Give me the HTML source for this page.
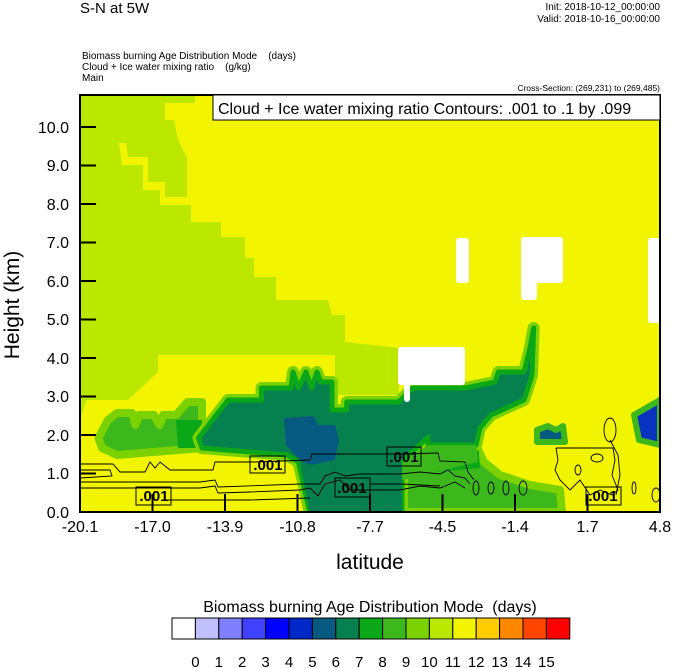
<!DOCTYPE html>
<html><head><meta charset="utf-8"><style>
html,body{margin:0;padding:0;background:#fff;}
svg{display:block;font-family:"Liberation Sans",sans-serif;}
</style></head><body>
<svg width="674" height="668" viewBox="0 0 674 668" xmlns="http://www.w3.org/2000/svg">
<defs><clipPath id="pc"><rect x="80" y="95" width="580" height="417"/></clipPath></defs>
<g clip-path="url(#pc)">
<rect x="80" y="95" width="580" height="417" fill="#f3f500"/>
<polygon fill="#bce800" points="80,95 195,95 195,103 165,103 165,120 174,120 178,140 187,158 187,197 160,197 160,205 191,205 191,222 221,222 221,237 245,237 245,258 254,258 254,277 276,277 276,300 328,300 332,315 345,315 345,342 399,348 399,395 335,395 335,355 158,355 158,372 128,400 87,400 80,418"/>
<polygon fill="#f3f500" points="119,143 126,143 128,157 148,157 148,182 165,182 165,200 160,200 160,190 143,190 143,165 122,165"/>
<polygon fill="#065a82" stroke="#3cb81c" stroke-width="6" stroke-linejoin="round" points="537,430 548,426 556,430 563,426 565,442 537,442"/>
<polygon fill="#0a32c0" stroke="#3cb81c" stroke-width="6" stroke-linejoin="round" points="634,415 660,400 660,445 639,440"/>
<g stroke-linejoin="round">
<polygon fill="#3cb81c" stroke="#7cd200" stroke-width="8" points="98.5,438 107.8,420 117,413 132,413 135.5,425 139,415 154,415 159.6,425 163,415 176,415 187.4,402 202,402 202,448 117,455 102,448"/>
<polygon fill="#0aa818" points="176,420 202,420 202,448 178,448"/>
<polygon fill="#3cb81c" stroke="#7cd200" stroke-width="8" points="402,450 428,437 476,445 484,462 500,475 530,485 560,490 562,512 402,512"/>
<polygon fill="#0aa818" points="402,440 478,440 480,468 402,475"/>
<polygon fill="#078050" stroke="#7cd200" stroke-width="12" points="198.5,438 228,400 261.5,400 261.5,388 291,388 293,372 298.5,388 306,372 311.5,388 317,372 320.7,382 332,382 332,410 346.7,410 346.7,402 398.5,402 413,388 465,388 495,382 498.5,372 524,372 530,348 533.7,328 532,375 528,388 524,400 491,415 480,428 476,445 428,445 428,437 402,462 402,512 309.6,512 298.5,462 287,455 202,448"/>
<polygon fill="#078050" stroke="#0aa818" stroke-width="5" points="198.5,438 228,400 261.5,400 261.5,388 291,388 293,372 298.5,388 306,372 311.5,388 317,372 320.7,382 332,382 332,410 346.7,410 346.7,402 398.5,402 413,388 465,388 495,382 498.5,372 524,372 530,348 533.7,328 532,375 528,388 524,400 491,415 480,428 476,445 428,445 428,437 402,462 402,512 309.6,512 298.5,462 287,455 202,448"/>
</g>
<polygon fill="#3cb81c" points="402,462 428,445 476,445 478,462 402,480"/>
<polygon fill="#078050" points="300,462 402,462 402,512 309.6,512"/>
<polygon fill="#065a82" points="284,418 314,416 318,425 335,425 339,440 335,460 310,465 300,460 286,445"/>
<g fill="#fff">
<rect x="456" y="238" width="13" height="45" rx="3"/>
<rect x="521" y="237" width="42" height="46" rx="3"/>
<rect x="521" y="280" width="16" height="20" rx="3"/>
<rect x="648" y="238" width="14" height="85" rx="3"/>
<rect x="398" y="347" width="67" height="38" rx="3"/>
<rect x="404" y="380" width="6" height="22" rx="3"/>
</g>
<g fill="none" stroke="#000" stroke-width="0.9">
<polyline points="80,464 113,464 120,472 145,472 150,462 155,468 160,462 170,470 213,470 215,462 255,462 310,460 312,454 400,454 438,453 440,461 465,462 468,472 474,480"/>
<polyline points="80,470 110,470 112,476 80,478"/>
<polyline points="80,482 200,482 215,480 218,487 300,484 320,484 325,476 335,472 345,476 360,474 400,474 420,472 440,474 448,470 455,476 465,478 470,484"/>
<polyline points="80,488 200,488 215,486 218,493 250,492 300,490 310,488 318,496 325,484 340,480 350,490 400,490 420,486 440,488 455,482 465,488"/>
<polyline points="165,500 250,500 310,498"/>
<polyline points="370,484 402,484 440,486"/>
<ellipse cx="476" cy="488" rx="3" ry="7"/><ellipse cx="491" cy="488" rx="3" ry="6"/>
<ellipse cx="506" cy="488" rx="3" ry="7"/><ellipse cx="523" cy="488" rx="4" ry="7"/>
<ellipse cx="610" cy="430" rx="6" ry="12"/>
<polyline points="556,448 613,448 615,460 612,475 618,490 612,495 600,490 590,495 580,480 570,490 560,480 555,470 558,460 556,448"/>
<polyline points="610,440 618,455 620,475 616,495"/>
<ellipse cx="634" cy="488" rx="2" ry="6"/><ellipse cx="656" cy="495" rx="4" ry="7"/>
<ellipse cx="578" cy="470" rx="3" ry="5"/><ellipse cx="597" cy="458" rx="6" ry="4"/>
</g>
<g fill="none" stroke="#000" stroke-width="1">
<rect x="250" y="456" width="35" height="17"/><rect x="387" y="447" width="34" height="19"/>
<rect x="335" y="478" width="35" height="19"/><rect x="136" y="487" width="35" height="18"/>
<rect x="586" y="487" width="35" height="18"/>
</g>
<g font-size="15" font-weight="bold" text-anchor="middle">
<text x="268" y="470">.001</text><text x="404" y="462">.001</text><text x="352" y="493">.001</text>
<text x="154" y="501">.001</text><text x="603" y="501">.001</text>
</g>
<g stroke="#000" stroke-width="2">
<line x1="80" y1="473.5" x2="96" y2="473.5"/><line x1="80" y1="435" x2="96" y2="435"/><line x1="80" y1="396.5" x2="96" y2="396.5"/><line x1="80" y1="358" x2="96" y2="358"/><line x1="80" y1="319.5" x2="96" y2="319.5"/><line x1="80" y1="281" x2="96" y2="281"/><line x1="80" y1="242.5" x2="96" y2="242.5"/><line x1="80" y1="204" x2="96" y2="204"/><line x1="80" y1="165.5" x2="96" y2="165.5"/><line x1="80" y1="127" x2="96" y2="127"/>
<line x1="152.5" y1="512" x2="152.5" y2="494"/><line x1="225" y1="512" x2="225" y2="494"/><line x1="297.5" y1="512" x2="297.5" y2="494"/><line x1="370" y1="512" x2="370" y2="494"/><line x1="442.5" y1="512" x2="442.5" y2="494"/><line x1="515" y1="512" x2="515" y2="494"/><line x1="587.5" y1="512" x2="587.5" y2="494"/>
</g>
</g>
<rect x="80" y="95" width="580" height="417" fill="none" stroke="#000" stroke-width="2"/>
<rect x="213" y="95" width="447" height="25" fill="#fff" stroke="#000" stroke-width="1"/>
<text x="218" y="114" font-size="16">Cloud + Ice water mixing ratio Contours: .001 to .1 by .099</text>
<text x="80" y="13" font-size="15">S-N at 5W</text>
<text x="660" y="10" font-size="10" text-anchor="end">Init: 2018-10-12_00:00:00</text>
<text x="660" y="22" font-size="10" text-anchor="end">Valid: 2018-10-16_00:00:00</text>
<text x="82" y="59" font-size="10">Biomass burning Age Distribution Mode&#160;&#160;&#160;&#160;(days)</text>
<text x="82" y="70" font-size="10">Cloud + Ice water mixing ratio&#160;&#160;&#160;&#160;(g/kg)</text>
<text x="82" y="81" font-size="10">Main</text>
<text x="660" y="91" font-size="8.5" text-anchor="end">Cross-Section: (269,231) to (269,485)</text>
<g font-size="16" text-anchor="end">
<text x="69" y="518">0.0</text><text x="69" y="479">1.0</text><text x="69" y="441">2.0</text><text x="69" y="402">3.0</text><text x="69" y="364">4.0</text><text x="69" y="325">5.0</text><text x="69" y="287">6.0</text><text x="69" y="248">7.0</text><text x="69" y="210">8.0</text><text x="69" y="171">9.0</text><text x="69" y="133">10.0</text>
</g>
<g font-size="16" text-anchor="middle">
<text x="80" y="532">-20.1</text><text x="152.5" y="532">-17.0</text><text x="225" y="532">-13.9</text><text x="297.5" y="532">-10.8</text><text x="370" y="532">-7.7</text><text x="442.5" y="532">-4.5</text><text x="515" y="532">-1.4</text><text x="587.5" y="532">1.7</text><text x="660" y="532">4.8</text>
</g>
<text x="370" y="569" font-size="21" text-anchor="middle">latitude</text>
<text transform="translate(19,305) rotate(-90)" font-size="21" text-anchor="middle">Height (km)</text>
<text x="370" y="612" font-size="16" text-anchor="middle">Biomass burning Age Distribution Mode&#160;&#160;(days)</text>
<g stroke="#000" stroke-width="1">
<rect x="172" y="618" width="23.4" height="21" fill="#ffffff"/>
<rect x="195.4" y="618" width="23.4" height="21" fill="#c0c0ff"/>
<rect x="218.8" y="618" width="23.4" height="21" fill="#8080ff"/>
<rect x="242.2" y="618" width="23.4" height="21" fill="#4040ff"/>
<rect x="265.6" y="618" width="23.4" height="21" fill="#0000ff"/>
<rect x="289" y="618" width="23.4" height="21" fill="#0028c8"/>
<rect x="312.4" y="618" width="23.4" height="21" fill="#065a82"/>
<rect x="335.8" y="618" width="23.4" height="21" fill="#078050"/>
<rect x="359.2" y="618" width="23.4" height="21" fill="#0aa818"/>
<rect x="382.6" y="618" width="23.4" height="21" fill="#3cb81c"/>
<rect x="406" y="618" width="23.4" height="21" fill="#7cd200"/>
<rect x="429.4" y="618" width="23.4" height="21" fill="#bce800"/>
<rect x="452.8" y="618" width="23.4" height="21" fill="#f3f500"/>
<rect x="476.2" y="618" width="23.4" height="21" fill="#ffcc00"/>
<rect x="499.6" y="618" width="23.4" height="21" fill="#ff8800"/>
<rect x="523" y="618" width="23.4" height="21" fill="#ff4400"/>
<rect x="546.4" y="618" width="23.4" height="21" fill="#ff0000"/>
</g>
<g font-size="15" text-anchor="middle">
<text x="195.4" y="667">0</text><text x="218.8" y="667">1</text><text x="242.2" y="667">2</text><text x="265.6" y="667">3</text><text x="289" y="667">4</text><text x="312.4" y="667">5</text><text x="335.8" y="667">6</text><text x="359.2" y="667">7</text><text x="382.6" y="667">8</text><text x="406" y="667">9</text><text x="429.4" y="667">10</text><text x="452.8" y="667">11</text><text x="476.2" y="667">12</text><text x="499.6" y="667">13</text><text x="523" y="667">14</text><text x="546.4" y="667">15</text>
</g>
</svg>
</body></html>
